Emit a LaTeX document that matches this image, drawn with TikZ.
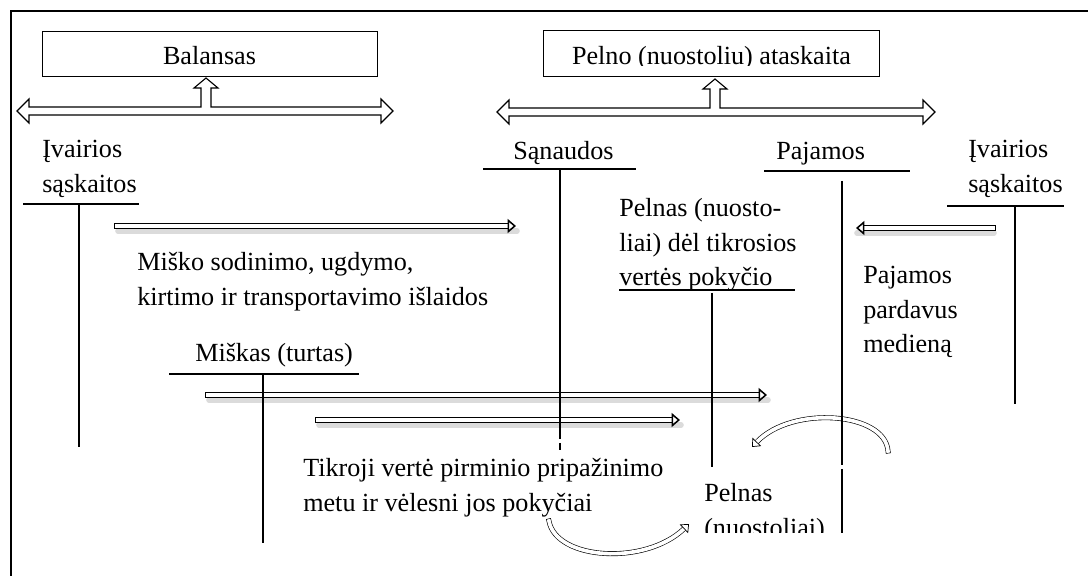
\documentclass[tikz,border=0pt]{standalone}
\usepackage{fontspec}
\setmainfont{Liberation Serif}
\usetikzlibrary{arrows.meta}
\usetikzlibrary{calc}

% lines of a text block, first baseline on the node's base
\newcommand{\textlines}[1]{\begin{tabular}[t]{@{}l@{}}#1\end{tabular}}

\begin{document}
\begin{tikzpicture}[x=0.025cm,y=-0.025cm,
    every node/.style={font=\fontsize{18.6pt}{24.5pt}\selectfont},
    box/.style={draw,line width=0.6pt,minimum width=8.375cm,minimum height=1.125cm,
      inner sep=0pt,text height=15pt,text depth=0pt},
    txt/.style={anchor=base west,inner sep=0pt},
    tline/.style={line width=0.9pt},
    hollow/.style={double,double distance=2.6pt,line width=0.85pt,line cap=rect,
      -{Triangle[fill=white,line width=1.1pt,length=6pt,width=10pt]}},
    bent/.style={double,double distance=2.6pt,line width=0.45pt,line cap=rect,
      -{Triangle[fill=white,line width=0.5pt,length=5pt,width=8.5pt]}},
    shade/.style={draw=black!14,line width=4pt,line cap=round},
    teearrow/.style={line width=0.8pt,fill=white,line join=miter}]

  \useasboundingbox (0,0) rectangle (1088,576);

  % frame
  \draw[line width=1.1pt] (11,576) -- (11,11) -- (1088,11);

  % statements
  \node[box] (bal) at (209.5,53.5) {Balansas};
  \begin{scope}
    \clip (540,25) rectangle (885,66);
    \node[box,draw=none] (pel) at (711.5,53.5) {Pelno (nuostoliu) ataskaita};
  \end{scope}
  \draw[line width=0.6pt] (pel.south west) rectangle (pel.north east);

  % hollow bars with the arrow up to the statement
  \foreach \lx/\rx/\mx/\cy/\ty in {17/393/206/111/78, 497/935/715/112/79}{
    \draw[teearrow] (\lx,\cy) -- (\lx+12,\cy-12) -- (\lx+12,\cy-4)
      -- (\mx-5,\cy-4) -- (\mx-5,\ty+10) -- (\mx-12,\ty+10) -- (\mx,\ty)
      -- (\mx+12,\ty+10) -- (\mx+5,\ty+10) -- (\mx+5,\cy-4)
      -- (\rx-12,\cy-4) -- (\rx-12,\cy-12) -- (\rx,\cy)
      -- (\rx-12,\cy+12) -- (\rx-12,\cy+4) -- (\lx+12,\cy+4)
      -- (\lx+12,\cy+12) -- cycle;
  }

  % ends of the flows
  \coordinate (costs-from)  at (117,226);
  \coordinate (costs-to)    at (516,226);
  \coordinate (forest-from) at (208,395);
  \coordinate (forest-to)   at (767,395);
  \coordinate (fair-from)   at (318,420);
  \coordinate (fair-to)     at (680,420);
  \coordinate (sale-from)   at (993,228);
  \coordinate (sale-to)     at (856,228);

  \foreach \s/\e in {costs-from/costs-to, forest-from/forest-to,
                     fair-from/fair-to, sale-from/sale-to}{
    \draw[shade] ($(\s)+(1,5)$) -- ($(\e)+(1,5)$);
    \draw[hollow] (\s) -- (\e);
  }

  % curved flows
  \coordinate (loop-from) at (888,451);
  \coordinate (loop-to)   at (752,447);
  \draw[bent] (loop-from) .. controls (885,412) and (792,405) .. (loop-to);
  \coordinate (gain-from) at (549,521);
  \coordinate (gain-to)   at (689,524);
  \draw[bent] (gain-from) .. controls (556,560) and (645,566) .. (gain-to);

  % accounts
  \foreach \xa/\xb/\yh/\xv/\ya/\yb in {23/139/204/79/204/447,
      947/1064/206/1015/206/404, 169/359/374/263/374/543,
      619/795/290/712/293/467}{
    \draw[tline] (\xa,\yh) -- (\xb,\yh) (\xv,\ya) -- (\xv,\yb);
  }
  \draw[tline] (483,169) -- (636,169) (560,169) -- (560,439) (560,443) -- (560,450);
  \draw[tline] (764,171) -- (910,171) (842,181) -- (842,465) (842,469) -- (842,533);

  % labels
  \node[txt] (acc-left)  at (42,158)  {\textlines{Įvairios\\sąskaitos}};
  \node[txt] (acc-right) at (968,158) {\textlines{Įvairios\\sąskaitos}};
  \node[txt] (expenses)  at (513,160) {Sąnaudos};
  \node[txt] (income)    at (776,160) {Pajamos};
  \node[txt] (costs)     at (137,271)
    {\textlines{Miško sodinimo, ugdymo,\\kirtimo ir transportavimo išlaidos}};
  \node[txt] (forest)    at (195,362) {Miškas (turtas)};
  \node[txt] (fv-change) at (619,217)
    {\textlines{Pelnas (nuosto-\\liai) dėl tikrosios\\vertės pokyčio}};
  \node[txt] (sale)      at (863,284) {\textlines{Pajamos\\pardavus\\medieną}};
  \node[txt] (fair)      at (303,477)
    {\textlines{Tikroji vertė pirminio pripažinimo\\metu ir vėlesni jos pokyčiai}};
  \begin{scope}
    \clip (690,470) rectangle (836,533);
    \node[txt] (result) at (704,502) {\textlines{Pelnas\\(nuostoliai)}};
  \end{scope}

\end{tikzpicture}
\end{document}
